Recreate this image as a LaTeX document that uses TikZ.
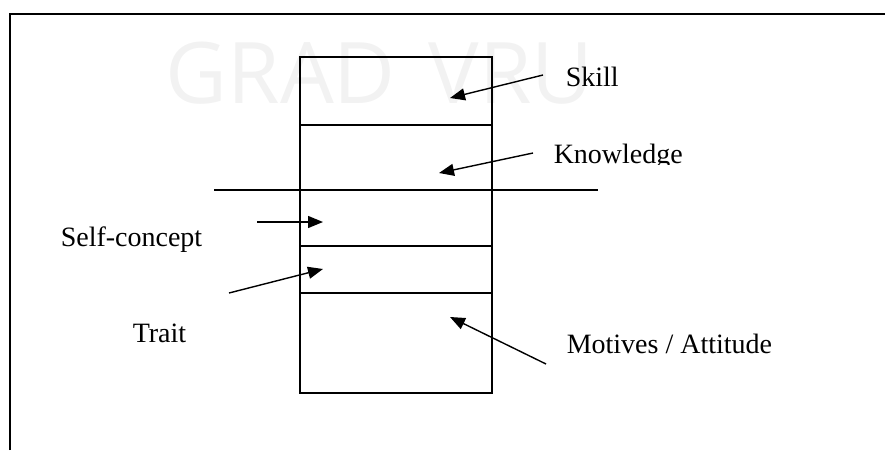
\documentclass[tikz,border=0pt]{standalone}
\usepackage{fontspec}
\setmainfont{Liberation Serif}
\setsansfont{Open Sans}
\usetikzlibrary{arrows.meta}

\begin{document}
\begin{tikzpicture}[x=1pt, y=-1pt, line width=1.5pt,
    layer/.style={draw, minimum width=192pt, inner sep=0pt, outer sep=0pt},
    pointer/.style={-{Triangle[length=15pt,width=12pt]}, line width=1.4pt}]
   \useasboundingbox (0,0) rectangle (885,450);

   % watermark
   \begin{scope}[every node/.style={font=\sffamily\fontsize{85}{85}\selectfont, text=black!5, anchor=base west, inner sep=0pt}]
    \node (markL) at (165,103) {GRAD};
    \node (markR) at (428,103) {VRU};
   \end{scope}

   % frame
   \coordinate (frameTL) at (10,14);
   \coordinate (frameTR) at (885,14);
   \coordinate (frameBL) at (10,450);
   \draw[line width=2.5pt] (frameBL) -- (frameTL) -- (frameTR);

   % layers
   \node[layer, minimum height=68pt] (skill) at (396,91) {};
   \node[layer, minimum height=65pt] (know) at (396,157.5) {};
   \node[layer, minimum height=56pt] (self) at (396,218) {};
   \node[layer, minimum height=47pt] (trait) at (396,269.5) {};
   \node[layer, minimum height=100pt] (motive) at (396,343) {};

   \coordinate (waterL) at (214,190);
   \coordinate (waterR) at (598,190);
   \draw (waterL) -- (waterR);

   % labels
   \begin{scope}[every node/.style={font=\fontsize{28}{34}\selectfont, anchor=base west, inner sep=0pt}]
    \node (skillText) at (565,86) {Skill};
    \begin{scope}
     \clip (540,120) rectangle (720,164);
     \node (knowText) at (553,163) {Knowledge};
    \end{scope}
    \node (selfText) at (60,246) {Self-concept};
    \node (traitText) at (132,342) {Trait};
    \node (motiveText) at (566,353) {Motives / Attitude};
   \end{scope}

   % pointers
   \coordinate (skillFrom) at (543,75);   \coordinate (skillTo) at (450,98);
   \coordinate (knowFrom) at (533,153);   \coordinate (knowTo) at (439,173);
   \coordinate (selfFrom) at (257,222);   \coordinate (selfTo) at (323,222);
   \coordinate (traitFrom) at (229,293);  \coordinate (traitTo) at (323,269);
   \coordinate (motiveFrom) at (546,364); \coordinate (motiveTo) at (450,317);
   \begin{scope}[every path/.style={pointer}]
    \draw (skillFrom) -- (skillTo);
    \draw (knowFrom) -- (knowTo);
    \draw (selfFrom) -- (selfTo);
    \draw (traitFrom) -- (traitTo);
    \draw (motiveFrom) -- (motiveTo);
   \end{scope}
\end{tikzpicture}
\end{document}
